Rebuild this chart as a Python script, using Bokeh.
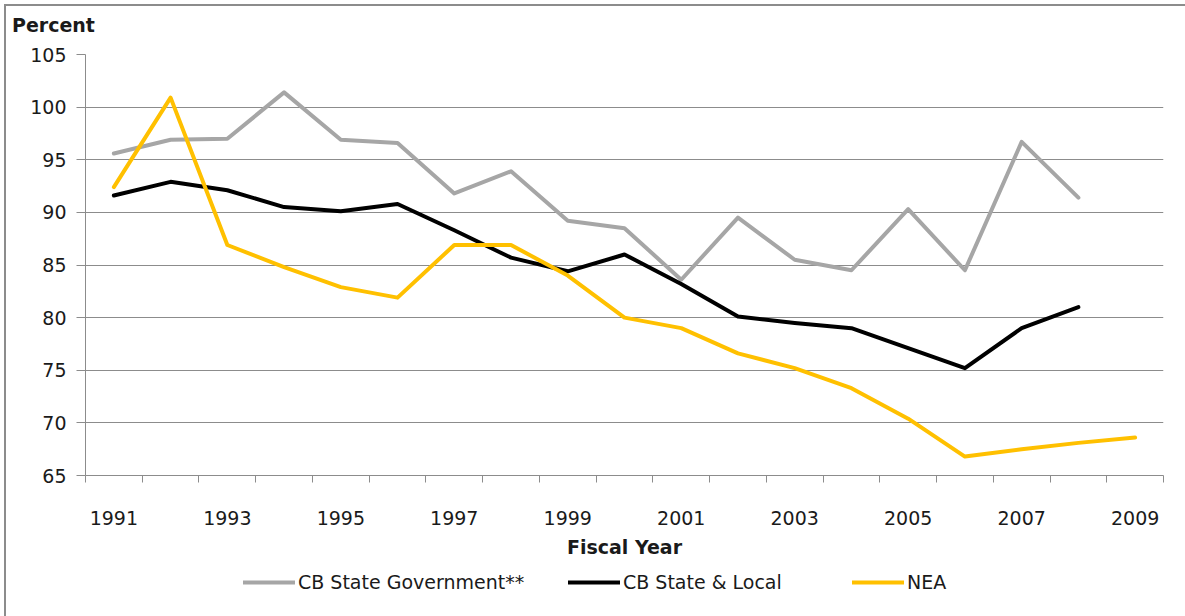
from bokeh.plotting import figure
from bokeh.models import Range1d, FixedTicker, Legend, LegendItem, Div
from bokeh.layouts import column
from bokeh.embed import file_html
from bokeh.resources import INLINE

years_state_gov = list(range(1991, 2009))
years_nea = list(range(1991, 2010))
cb_state_gov = [95.6, 96.9, 97.0, 101.4, 96.9, 96.6, 91.8, 93.9, 89.2, 88.5,
                83.6, 89.5, 85.5, 84.5, 90.3, 84.5, 96.7, 91.4]
cb_state_local = [91.6, 92.9, 92.1, 90.5, 90.1, 90.8, 88.3, 85.7, 84.4, 86.0,
                  83.2, 80.1, 79.5, 79.0, 77.1, 75.2, 79.0, 81.0]
nea = [92.4, 100.9, 86.9, 84.8, 82.9, 81.9, 86.9, 86.9, 84.0, 80.0,
       79.0, 76.6, 75.2, 73.3, 70.4, 66.8, 67.5, 68.1, 68.6]
series_names = ["CB State Government**", "CB State & Local", "NEA"]
x_tick_labels = list(range(1991, 2010, 2))
y_ticks = [65, 70, 75, 80, 85, 90, 95, 100, 105]
y_title = "Percent"

FONT = "DejaVu Sans"
TXT = "#1a1a1a"
GRID = "#8c8c8c"
colors = ["#a6a6a6", "#000000", "#ffc000"]

# "Percent" heading strip
head = Div(text=("<div style=\"padding:10px 0 0 6px; font-family:'DejaVu Sans'; "
                 "font-size:19px; font-weight:bold; line-height:1; color:%s;\">%s</div>"
                 % (TXT, y_title)),
           width=1179, height=34, margin=0)

p = figure(width=1179, height=523,
           min_border_left=79, min_border_top=14, min_border_bottom=88, min_border_right=22,
           x_range=Range1d(1990.5, 2009.5), y_range=Range1d(65, 105),
           output_backend="svg", toolbar_location=None, tools="")
p.outline_line_color = None
p.background_fill_color = "white"
p.border_fill_color = "white"

p.xgrid.grid_line_color = None
p.ygrid.grid_line_color = GRID
p.ygrid.grid_line_width = 1
p.ygrid.ticker = FixedTicker(ticks=y_ticks)

p.yaxis.ticker = FixedTicker(ticks=y_ticks)
p.yaxis.axis_line_color = GRID
p.yaxis.major_tick_line_color = GRID
p.yaxis.major_tick_out = 9
p.yaxis.major_tick_in = 0
p.yaxis.minor_tick_line_color = None
p.yaxis.major_label_text_font = FONT
p.yaxis.major_label_text_font_size = "19px"
p.yaxis.major_label_text_color = TXT
p.yaxis.major_label_standoff = 10

minor = [y - 0.5 for y in years_nea] + [years_nea[-1] + 0.5]
p.xaxis.ticker = FixedTicker(ticks=x_tick_labels, minor_ticks=minor)
p.xaxis.axis_line_color = GRID
p.xaxis.major_tick_line_color = None
p.xaxis.major_tick_out = 0
p.xaxis.major_tick_in = 0
p.xaxis.minor_tick_line_color = GRID
p.xaxis.minor_tick_out = 7
p.xaxis.minor_tick_in = 0
p.xaxis.major_label_text_font = FONT
p.xaxis.major_label_text_font_size = "19px"
p.xaxis.major_label_text_color = TXT
p.xaxis.major_label_standoff = 28
p.xaxis.axis_label = "Fiscal Year"
p.xaxis.axis_label_text_font = FONT
p.xaxis.axis_label_text_font_size = "19px"
p.xaxis.axis_label_text_font_style = "bold"
p.xaxis.axis_label_text_color = TXT
p.xaxis.axis_label_standoff = 8

line_kw = dict(line_width=4, line_join="round", line_cap="round")
p.line(years_state_gov, cb_state_gov, line_color=colors[0], **line_kw)
p.line(years_state_gov, cb_state_local, line_color=colors[1], **line_kw)
p.line(years_nea, nea, line_color=colors[2], **line_kw)

# legend strip below the chart
pl = figure(width=1179, height=53, min_border=0,
            x_range=Range1d(0, 1), y_range=Range1d(0, 1),
            x_axis_location=None, y_axis_location=None,
            output_backend="svg", toolbar_location=None, tools="")
pl.outline_line_color = None
pl.grid.grid_line_color = None
pl.border_fill_color = "white"
pl.background_fill_color = "white"

legend_x = [158, 483, 767]
for c, name, lx in zip(colors, series_names, legend_x):
    r = pl.line([5, 6], [5, 6], line_color=c, **line_kw)
    lg = Legend(items=[LegendItem(label=name, renderers=[r])],
                location=(lx, 23), orientation="horizontal",
                padding=0, margin=0, spacing=0,
                glyph_width=52, glyph_height=20, label_standoff=3,
                label_height=20,
                label_text_font=FONT, label_text_font_size="19px",
                label_text_color=TXT,
                border_line_color=None, background_fill_alpha=0)
    pl.add_layout(lg, "center")

layout = column(head, p, pl, spacing=0)
layout.styles = {"margin-left": "4px", "margin-top": "4px",
                 "border-left": "2px solid #8c8c8c", "border-top": "2px solid #8c8c8c"}

open("out.html", "w").write(file_html(layout, INLINE))
